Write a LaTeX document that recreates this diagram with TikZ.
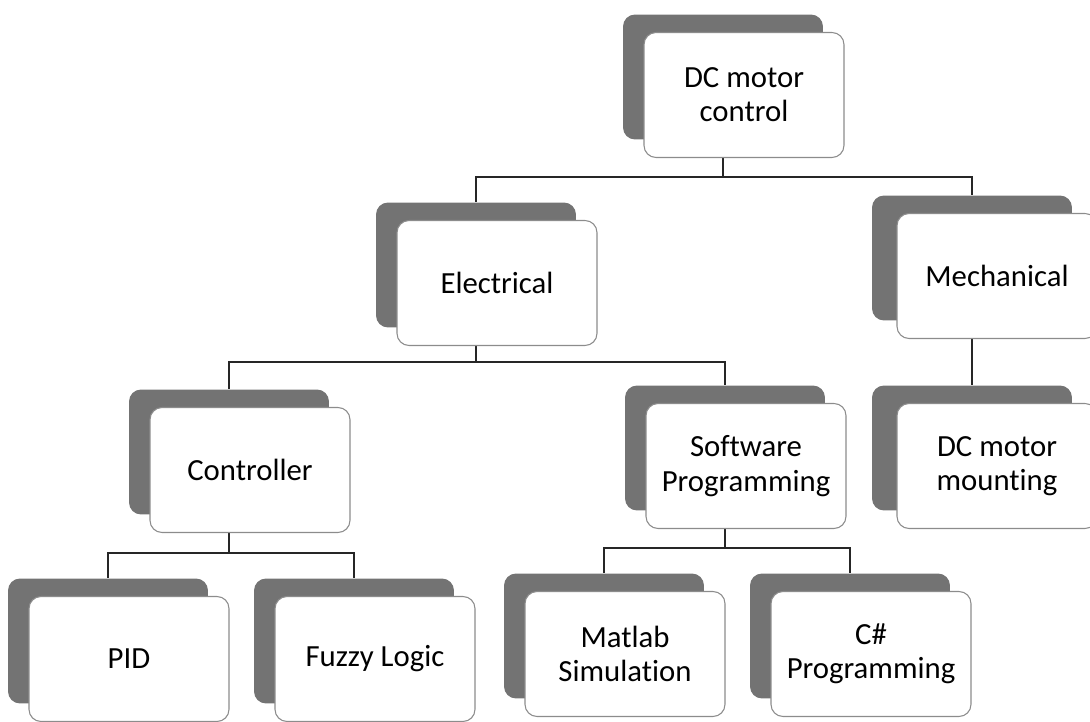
\documentclass[tikz,border=0pt]{standalone}
\usepackage{fontspec}
\setmainfont{Carlito}[RawFeature={-liga;-clig;-calt;-dlig}]
\usepackage{tikz}
\pgfdeclarelayer{bg}
\pgfsetlayers{bg,main}
\tikzset{
    back/.style={rectangle, rounded corners=0.24cm, fill=black!55, draw=none, minimum width=4cm, minimum height=2.5cm},
    front/.style={rectangle, rounded corners=0.24cm, fill=white, draw=black!45, line width=0.6pt, minimum width=4cm, minimum height=2.5cm, align=center, font=\fontsize{17.5}{19.5}\selectfont}
}
\tikzset{link/.style={draw=black!85, line width=1.5pt}}

\begin{document}
\begin{tikzpicture}[x=0.02cm, y=-0.02cm]
        \useasboundingbox (0,0) rectangle (1090,722);
        \node (dcb) [back] at (723,77) {};
        \node (dc) [front] at (744,95) {DC motor\\control};
        \node (elb) [back] at (476,265) {};
        \node (el) [front] at (497,283) {Electrical};
        \node (meb) [back] at (972,258) {};
        \node (me) [front] at (997,276) {Mechanical};
        \node (mob) [back] at (972,448) {};
        \node (mo) [front] at (997,466) {DC motor\\mounting};
        \node (ctb) [back] at (229,452) {};
        \node (ct) [front] at (250,470) {Controller};
        \node (swb) [back] at (725,448) {};
        \node (sw) [front] at (746,466) {Software\\Programming};
        \node (pib) [back] at (108,641) {};
        \node (pi) [front] at (129,659) {PID};
        \node (fzb) [back] at (354,641) {};
        \node (fz) [front] at (375,659) {Fuzzy Logic};
        \node (mlb) [back] at (604,636) {};
        \node (ml) [front] at (625,654) {Matlab\\Simulation};
        \node (csb) [back] at (850,636) {};
        \node (cs) [front] at (871,654) {C\#\\Programming};
        \begin{pgfonlayer}{bg}
                \draw [link] (dc.south -| dcb) -- ++(0,19) -| (elb.north);
                \draw [link] (dc.south -| dcb) -- ++(0,19) -| (meb.north);
                \draw [link] (el.south -| elb) -- ++(0,16) -| (ctb.north);
                \draw [link] (el.south -| elb) -- ++(0,16) -| (swb.north);
                \draw [link] (me.south -| meb) -- (mob.north);
                \draw [link] (ct.south -| ctb) -- ++(0,20) -| (pib.north);
                \draw [link] (ct.south -| ctb) -- ++(0,20) -| (fzb.north);
                \draw [link] (sw.south -| swb) -- ++(0,19) -| (mlb.north);
                \draw [link] (sw.south -| swb) -- ++(0,19) -| (csb.north);
        \end{pgfonlayer}
\end{tikzpicture}
\end{document}
